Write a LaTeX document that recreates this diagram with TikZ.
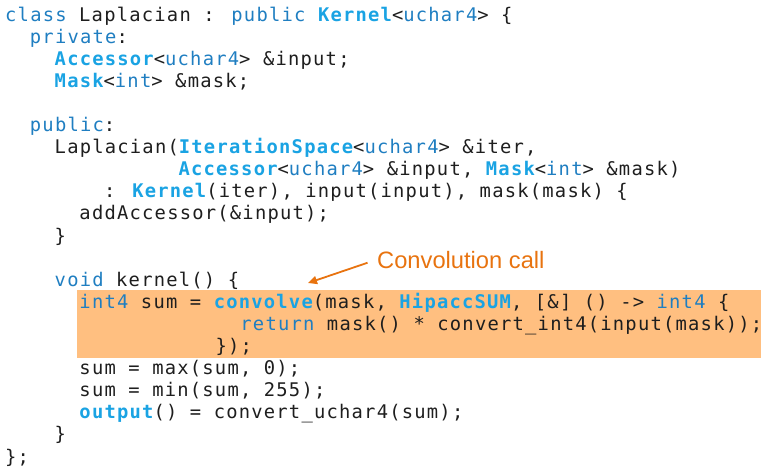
\documentclass[tikz,border=0pt]{standalone}
\usepackage{fontspec}
\setmainfont{Liberation Sans}
\newfontfamily\codefont[LetterSpace=6.5]{DejaVu Sans Mono}
\usetikzlibrary{arrows.meta}

\definecolor{kwblue}{HTML}{1F7EC1}
\definecolor{tyblue}{HTML}{1AA3E3}
\definecolor{codeink}{HTML}{1E1E1E}
\definecolor{hlfill}{HTML}{FFBF80}
\definecolor{noteorange}{HTML}{E8730F}

% keywords (plain blue) and class/function names (bold cyan)
\newcommand\kw[1]{\textcolor{kwblue}{#1}}
\newcommand\ty[1]{\textcolor{tyblue}{\bfseries #1}}

% one source line: name, row, column, text
\newcommand\codeline[4]{%
  \node[code] (#1) at ({5+#3*12.38},{-21-(#2-1)*22.1}) {#4};}

\begin{document}
\begin{tikzpicture}[x=1pt,y=1pt,
  code/.style={anchor=base west, inner sep=0pt, text=codeink,
    font=\codefont\fontsize{18.8}{22}\selectfont},
  note/.style={anchor=base west, inner sep=0pt, text=noteorange,
    font=\fontsize{23.7}{26}\selectfont},
  pointer/.style={draw=noteorange, line width=1.8pt,
    -{Triangle[length=9pt,width=8pt]}, shorten <=10pt}]

\useasboundingbox (0,0) rectangle (761,-467);

% highlighted convolve statement
\fill[hlfill] (77,-290) rectangle (761,-357.5);

\codeline{l1}{1}{0}{\kw{class} Laplacian : \kw{public} \ty{Kernel}<\kw{uchar4}> \{}
\codeline{l2}{2}{2}{\kw{private}:}
\codeline{l3}{3}{4}{\ty{Accessor}<\kw{uchar4}> \&input;}
\codeline{l4}{4}{4}{\ty{Mask}<\kw{int}> \&mask;}
\codeline{l6}{6}{2}{\kw{public}:}
\codeline{l7}{7}{4}{Laplacian(\ty{IterationSpace}<\kw{uchar4}> \&iter,}
\codeline{l8}{8}{14}{\ty{Accessor}<\kw{uchar4}> \&input, \ty{Mask}<\kw{int}> \&mask)}
\codeline{l9}{9}{8}{: \ty{Kernel}(iter), input(input), mask(mask) \{}
\codeline{l10}{10}{6}{addAccessor(\&input);}
\codeline{l11}{11}{4}{\}}
\codeline{l13}{13}{4}{\kw{void} kernel() \{}
\codeline{l14}{14}{6}{\kw{int4} sum = \ty{convolve}(mask, \ty{HipaccSUM}, [\&] () -> \kw{int4} \{}
\codeline{l15}{15}{19}{\kw{return} mask() * convert\_int4(input(mask));}
\codeline{l16}{16}{17}{\});}
\codeline{l17}{17}{6}{sum = max(sum, 0);}
\codeline{l18}{18}{6}{sum = min(sum, 255);}
\codeline{l19}{19}{6}{\ty{output}() = convert\_uchar4(sum);}
\codeline{l20}{20}{4}{\}}
\codeline{l21}{21}{0}{\};}

% annotation
\node[note] (conv) at (377,-268) {Convolution call};
\coordinate (convtip) at (308,-283);
\draw[pointer] (conv.west) -- (convtip);

\end{tikzpicture}
\end{document}
